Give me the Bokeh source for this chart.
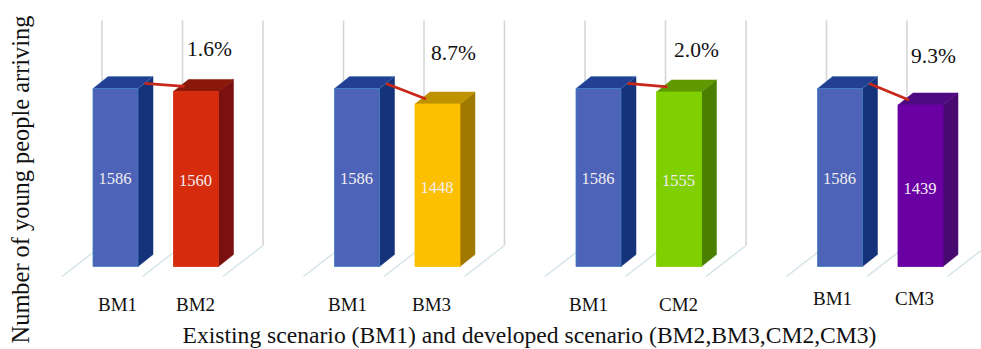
from math import pi

from bokeh.core.properties import value
from bokeh.embed import file_html
from bokeh.models import Range1d
from bokeh.plotting import figure
from bokeh.resources import INLINE

# Young people arriving under each scenario pair
baseline_name = "BM1"
baseline_value = 1586
scenario_names = ["BM2", "BM3", "CM2", "CM3"]
scenario_values = [1560, 1448, 1555, 1439]
change_labels = ["1.6%", "8.7%", "2.0%", "9.3%"]
x_title = "Existing scenario (BM1) and developed scenario (BM2,BM3,CM2,CM3)"
y_title = "Number of young people arriving"

# Face colours of the extruded bars: front, side, top
baseline_faces = ("#4c63b7", "#14337a", "#233f93")
scenario_faces = [
    ("#d62b0d", "#7a1010", "#8a180a"),
    ("#fdc000", "#a07a00", "#bf9200"),
    ("#80cf00", "#4a7f00", "#5f9800"),
    ("#6a00a3", "#470a6e", "#4f0a82"),
]

# Layout, in window pixels
W, H = 981, 349
BASE_PX = 266
PX_PER_UNIT = 178 / 1586
GROUP_LEFT = [92.5, 334, 575.5, 817]
PAIR_STEP = 80.5
BAR_W = 45
DEPTH_X, DEPTH_Y = 15, 12
TICK_PX = [304, 304, 304, 298]
TICK_CENTER = [(117, 195), (347, 431), (588, 678), (832, 914)]
CHANGE_POS = [(209, 48), (453, 52), (696, 49), (933, 55)]

FONT = value("Liberation Serif")
to_value = lambda px: (BASE_PX - px) / PX_PER_UNIT
lift = DEPTH_Y / PX_PER_UNIT

p = figure(
    width=W, height=H, output_backend="svg", toolbar_location=None,
    x_range=Range1d(0, W), y_range=Range1d(to_value(H), to_value(0)),
    min_border=0, outline_line_color=None,
)
p.axis.visible = False
p.grid.visible = False
p.background_fill_color = "white"
p.border_fill_color = "white"
# A second vertical scale in pixels for annotation placement
p.extra_y_ranges["px"] = Range1d(H, 0)

# Back-wall gridlines and the floor lines they fold into
for left in GROUP_LEFT:
    for i in range(3):
        gx = left + 9 + i * PAIR_STEP
        p.line([gx, gx], [20, 245], y_range_name="px", line_color="#d6d6d8", line_width=1.6)
        p.line([gx, gx - 40], [245, 276], y_range_name="px", line_color="#d3e3e8", line_width=1.4)


def bar(left, val, faces, edge=None):
    """Draw one extruded bar from its value."""
    front, side, top = faces
    right = left + BAR_W
    p.patch([right, right + DEPTH_X, right + DEPTH_X, right],
            [0, lift, val + lift, val], fill_color=side, line_color=side, line_width=0.5)
    p.patch([left, left + DEPTH_X, right + DEPTH_X, right],
            [val, val + lift, val + lift, val], fill_color=top, line_color=edge or top, line_width=0.5)
    p.patch([left, right, right, left], [0, 0, val, val],
            fill_color=front, line_color=edge or front, line_width=0.8)


for g, left in enumerate(GROUP_LEFT):
    second = left + PAIR_STEP
    val = scenario_values[g]
    bar(left, baseline_value, baseline_faces, edge="#3f7fbf")
    bar(second, val, scenario_faces[g])

    # Connector from the baseline bar top to the scenario bar top
    p.line([left + BAR_W + 6.5, second + 11], [baseline_value + 45, val + 45],
           line_color="#c8281a", line_width=2.8)

    # Values on the bar fronts
    p.text([left + BAR_W / 2 - 0.5, second + BAR_W / 2 - 0.5],
           [to_value(178), to_value(178 + (baseline_value - val) * PX_PER_UNIT * 0.6)],
           text=[str(baseline_value), str(val)], text_font=FONT, text_font_size="16.5px",
           text_color="#f1edf1", text_align="center", text_baseline="middle")

    # Category labels
    p.text(list(TICK_CENTER[g]), [TICK_PX[g]] * 2, y_range_name="px",
           text=[baseline_name, scenario_names[g]], text_font=FONT, text_font_size="19px",
           text_color="#111111", text_align="center", text_baseline="middle")

    # Percentage change
    p.text([CHANGE_POS[g][0]], [CHANGE_POS[g][1]], y_range_name="px", text=[change_labels[g]],
           text_font=FONT, text_font_size="21.5px", text_color="#111111",
           text_align="center", text_baseline="middle")

# Axis titles
p.text([529], [334], y_range_name="px", text=[x_title], text_font=FONT, text_font_size="23.6px",
       text_color="#111111", text_align="center", text_baseline="middle")
p.text([20], [179], y_range_name="px", text=[y_title], angle=pi / 2, text_font=FONT, text_font_size="24.4px",
       text_color="#111111", text_align="center", text_baseline="middle")

open("out.html", "w").write(file_html(p, INLINE))
